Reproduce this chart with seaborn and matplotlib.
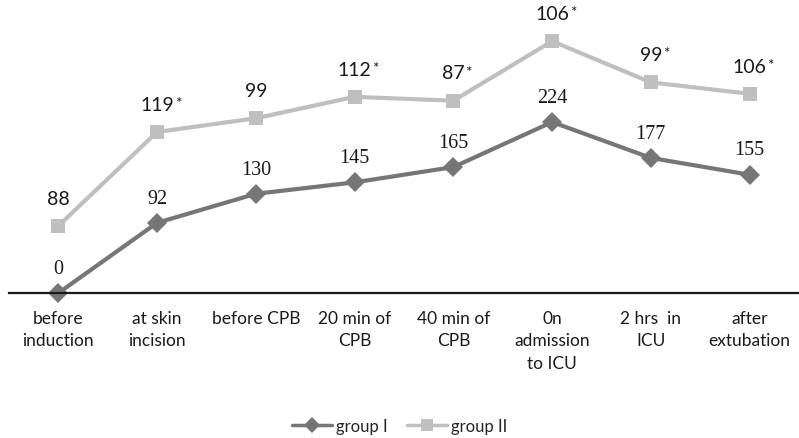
import matplotlib
matplotlib.use('Agg')
import matplotlib.pyplot as plt
import seaborn as sns
import pandas as pd

stages = ['before\ninduction', 'at skin\nincision', 'before CPB', '20 min of\nCPB',
          '40 min of\nCPB', '0n\nadmission\nto ICU', '2 hrs  in\nICU', 'after\nextubation']
group_1 = [0, 92, 130, 145, 165, 224, 177, 155]
group_2 = [88, 119, 99, 112, 87, 106, 99, 106]
group_2_sig = [False, True, False, True, True, True, True, True]

# stacked line chart: group II is drawn on top of group I
stacked_2 = [a + b for a, b in zip(group_1, group_2)]

df = pd.DataFrame({
    'stage': list(range(len(stages))) * 2,
    'value': group_1 + stacked_2,
    'group': ['group I'] * len(stages) + ['group II'] * len(stages),
})

sns.set_style('white')
plt.rcParams['font.family'] = ['Lato', 'DejaVu Sans']

fig = plt.figure(figsize=(7.99, 4.39), dpi=100)
ax = fig.add_axes([9 / 799, 145 / 439, 790 / 799, 290 / 439])

sns.lineplot(data=df, x='stage', y='value', hue='group', style='group',
             palette={'group I': '#767676', 'group II': '#bfbfbf'},
             markers={'group I': 'D', 'group II': 's'}, dashes=False,
             linewidth=3, markersize=10, markeredgewidth=0, ax=ax, legend=True)

for i, v in enumerate(group_1):
    ax.annotate(str(v), (i, v), xytext=(0, 11), textcoords='offset points',
                ha='center', va='bottom', fontsize=14.5, family='Liberation Serif',
                color='#1a1a1a')
for i, (v, y) in enumerate(zip(group_2, stacked_2)):
    ax.annotate(str(v), (i, y), xytext=(0, 16), textcoords='offset points',
                ha='center', va='baseline', fontsize=14, color='#1a1a1a')
    if group_2_sig[i]:
        # smaller asterisk right after the number
        ax.annotate('*', (i, y), xytext=(len(str(v)) * 4.1 + 0.5, 18),
                    textcoords='offset points', ha='left', va='baseline',
                    fontsize=11, color='#1a1a1a')

ax.set_xlim(-0.5, 7.5)
ax.set_ylim(0, 380)
ax.set_xticks(range(len(stages)))
ax.set_xticklabels(stages, fontsize=12.5, color='#1a1a1a', linespacing=1.5)
ax.set_yticks([])
ax.set_xlabel('')
ax.set_ylabel('')
ax.tick_params(axis='x', length=0, pad=12)
for s in ['top', 'left', 'right']:
    ax.spines[s].set_visible(False)
ax.spines['bottom'].set_color('#1a1a1a')
ax.spines['bottom'].set_linewidth(1.6)
for line in ax.lines:
    line.set_clip_on(False)

handles, labels = ax.get_legend_handles_labels()
ax.legend_.remove()
for h in handles:
    h.set_linewidth(2.5)
    h.set_markersize(8)
fig.legend(handles, labels, loc='center', bbox_to_anchor=(0.5, 1 - 427 / 439),
           ncol=2, frameon=False, fontsize=12, handlelength=2.4,
           handletextpad=0.2, columnspacing=1.2)

fig.savefig('out.png', dpi=100)
